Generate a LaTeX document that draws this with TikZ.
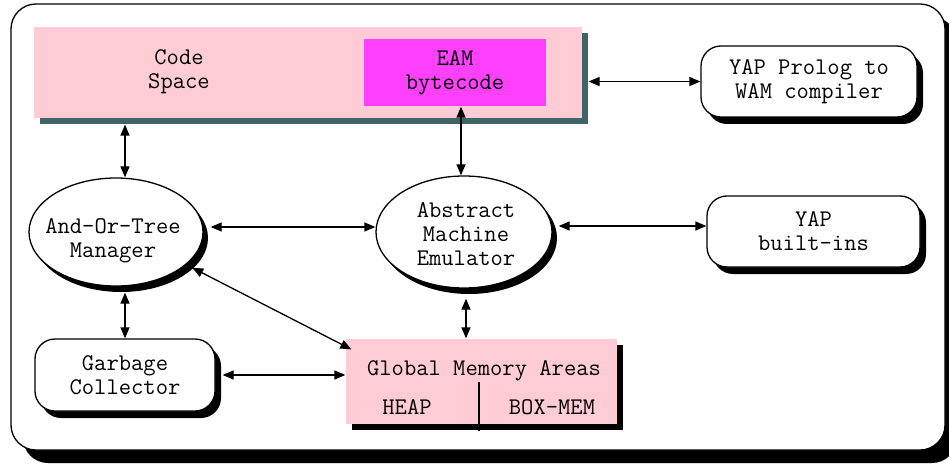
\documentclass[tikz,border=0pt]{standalone}
\usetikzlibrary{arrows.meta,shadows,shapes.geometric}
\definecolor{pinkbox}{RGB}{255,204,213}
\definecolor{magbox}{RGB}{255,64,255}
\definecolor{slate}{RGB}{63,102,102}
\begin{document}
\begin{tikzpicture}[x=1pt,y=-1pt,
  font=\ttfamily\fontsize{23.9}{24}\selectfont,
  line width=1.3pt,
  frame/.style={draw, fill=white, rounded corners=25pt, inner sep=0pt,
    drop shadow={shadow xshift=12pt,shadow yshift=-13pt,opacity=1,fill=black}},
  rbox/.style={draw, fill=white, rounded corners=20pt, inner sep=0pt, align=center,
    drop shadow={shadow xshift=6pt,shadow yshift=-7pt,opacity=1,fill=black}},
  ell/.style={ellipse, draw, fill=white, inner sep=0pt,
    drop shadow={shadow xshift=5pt,shadow yshift=-6pt,opacity=1,fill=black}},
  memarea/.style={fill=pinkbox, inner sep=0pt},
  lbl/.style={inner sep=0pt, align=center},
  arr/.style={{Triangle[length=11pt,width=9pt]}-{Triangle[length=11pt,width=9pt]}, line width=1.3pt}
]
\useasboundingbox (0,0) rectangle (949,465);
\clip (0,0) rectangle (949,465);

% outer frame
\node[frame, minimum width=934pt, minimum height=446pt] (outer) at (478,227) {};

% code space
\node[memarea, minimum width=548pt, minimum height=91pt,
  drop shadow={shadow xshift=6pt,shadow yshift=-6pt,opacity=1,fill=slate}] (code) at (308,72.5) {};
\node[lbl] (codetxt) at (179,72) {Code\\Space};
\node[fill=magbox, inner sep=0pt, align=center, minimum width=182pt, minimum height=67pt] (eam) at (455,72.5) {EAM\\bytecode};

% compiler
\node[rbox, minimum width=216pt, minimum height=71pt] (comp) at (809,81.5) {YAP Prolog to\\WAM compiler};

% ellipses
\node[ell, minimum width=174pt, minimum height=108pt] (aot) at (116,232) {};
\node[lbl] (aottxt) at (113,241) {And-Or-Tree\\Manager};
\node[ell, minimum width=176pt, minimum height=112pt] (ame) at (464,232) {};
\node[lbl] (ametxt) at (466,234) {Abstract\\Machine\\Emulator};

% built-ins
\node[rbox, minimum width=213pt, minimum height=71pt] (bi) at (813.5,231.5) {YAP\\built-ins};

% garbage collector
\node[rbox, minimum width=180pt, minimum height=72pt] (gc) at (125,375) {Garbage\\Collector};

% global memory areas
\node[memarea, minimum width=271pt, minimum height=85pt,
  drop shadow={shadow xshift=6pt,shadow yshift=-6pt,opacity=1,fill=black}] (gma) at (481.5,381.5) {};
\node[lbl] (gmatxt) at (484,371) {Global Memory Areas};
\node[lbl] (heap) at (407,407) {HEAP};
\node[lbl] (boxmem) at (552,407) {BOX-MEM};
\coordinate (divtop) at (479,382);
\draw (divtop) -- ([yshift=-6pt]divtop |- gma.south);

% connectors
\draw[arr] (comp.west) -- ([xshift=6pt]comp.west -| code.east);
\draw[arr] ([xshift=9pt]aot.north) -- ([xshift=9pt,yshift=-6pt]aot.north |- code.south);
\draw[arr] ([xshift=-3pt]ame.north) -- ([xshift=-3pt]ame.north |- eam.south);
\draw[arr] ([xshift=7pt,yshift=5pt]aot.east) -- ([yshift=5pt]ame.west);
\draw[arr] ([xshift=6pt,yshift=6pt]ame.east) -- ([yshift=6pt]ame.east -| bi.west);
\draw[arr] ([xshift=9pt,yshift=-6pt]aot.south) -- ([xshift=9pt]aot.south |- gc.north);
\draw[arr] ([xshift=7pt]gc.east) -- (gc.east -| gma.west);
\draw[arr] ([xshift=2pt,yshift=-10pt]ame.south) -- ([xshift=2pt]ame.south |- gma.north);
\draw[arr] ([xshift=6pt,yshift=-3pt]aot.-25) -- ([xshift=6pt,yshift=-11pt]gma.north west);
\end{tikzpicture}
\end{document}
